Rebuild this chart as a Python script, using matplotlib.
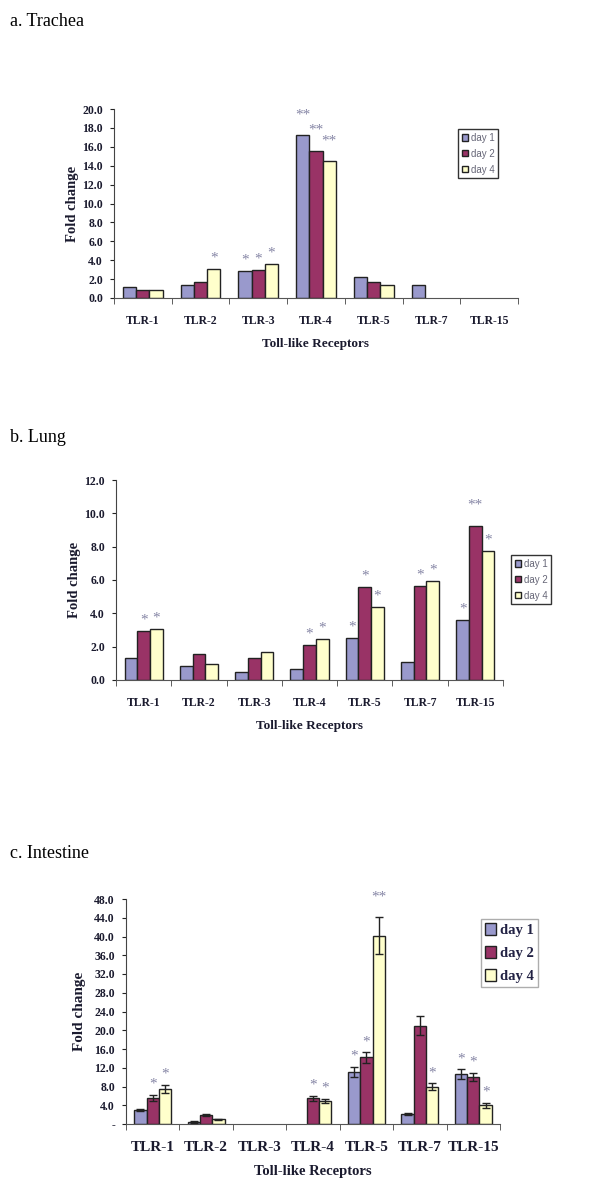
import numpy as np
import matplotlib.pyplot as plt
from matplotlib.ticker import FuncFormatter, FixedLocator

# Données
receptors = ['TLR-1', 'TLR-2', 'TLR-3', 'TLR-4', 'TLR-5', 'TLR-7', 'TLR-15']
days = ['day 1', 'day 2', 'day 4']
colors = ['#9999CC', '#993366', '#FFFFCC']

# a. Trachea
trachea_d1 = [1.17, 1.38, 2.86, 17.24, 2.19, 1.38, 0.0]
trachea_d2 = [0.88, 1.70, 3.00, 15.58, 1.73, 0.0, 0.0]
trachea_d4 = [0.81, 3.07, 3.60, 14.45, 1.41, 0.0, 0.0]
trachea_s1 = ['', '', '*', '**', '', '', '']
trachea_s2 = ['', '', '*', '**', '', '', '']
trachea_s4 = ['', '*', '*', '**', '', '', '']

# b. Lung
lung_d1 = [1.30, 0.86, 0.48, 0.66, 2.51, 1.10, 3.63]
lung_d2 = [2.97, 1.54, 1.30, 2.12, 5.61, 5.63, 9.26]
lung_d4 = [3.07, 0.98, 1.66, 2.48, 4.37, 5.93, 7.74]
lung_s1 = ['', '', '', '', '*', '', '*']
lung_s2 = ['*', '', '', '*', '*', '*', '**']
lung_s4 = ['*', '', '', '*', '*', '*', '*']

# c. Intestine
intes_d1 = [2.98, 0.43, 0.0, 0.0, 11.08, 2.13, 10.60]
intes_d2 = [5.54, 2.00, 0.0, 5.47, 14.20, 21.00, 10.00]
intes_d4 = [7.46, 1.00, 0.0, 4.90, 40.20, 8.00, 3.98]
intes_e1 = [0.30, 0.15, 0.0, 0.0, 1.10, 0.25, 1.05]
intes_e2 = [0.70, 0.20, 0.0, 0.50, 1.10, 2.06, 0.85]
intes_e4 = [0.90, 0.15, 0.0, 0.50, 3.90, 0.65, 0.50]
intes_s1 = ['', '', '', '', '*', '', '*']
intes_s2 = ['*', '', '', '*', '*', '', '*']
intes_s4 = ['*', '', '', '*', '**', '*', '*']

serif = 'Liberation Serif'
star_color = '#8585a5'
text_color = '#1a1a2e'


def draw_panel(ax, series, stars, ymax, ystep, errors=None, xtick_fs=8.5,
               ytick_fs=8.5, ylabel_fs=10.5, xlabel_fs=9.5, dash_zero=False,
               ylabelpad=4):
    x = np.arange(len(receptors))
    w = 0.23
    handles = []
    for i, vals in enumerate(series):
        pos = x + (i - 1) * w
        err = errors[i] if errors is not None else None
        lws = [1.0 if v > 0 else 0.0 for v in vals]
        b = ax.bar(pos, vals, w, color=colors[i], edgecolor='#222222',
                   linewidth=lws, label=days[i], zorder=2)
        handles.append(b)
        if err is not None:
            keep = [j for j, v in enumerate(vals) if v > 0]
            ax.errorbar(pos[keep], np.array(vals)[keep], yerr=np.array(err)[keep],
                        fmt='none', ecolor='#222222', elinewidth=1.0, capsize=3,
                        capthick=1.0, zorder=3)
        for j, s in enumerate(stars[i]):
            if not s:
                continue
            top = vals[j] + (err[j] if err is not None else 0)
            off = 10 if s == '**' else 3
            ax.annotate(s, (pos[j], top), xytext=(0, off), textcoords='offset points',
                        ha='center', va='bottom', fontsize=11, color=star_color,
                        family=serif)
    ax.set_xlim(-0.5, len(receptors) - 0.5)
    ax.set_ylim(0, ymax)
    ax.set_yticks(np.arange(0, ymax + ystep / 2, ystep))
    if dash_zero:
        ax.yaxis.set_major_formatter(FuncFormatter(lambda v, p: '-' if v == 0 else f'{v:.1f}'))
    else:
        ax.yaxis.set_major_formatter(FuncFormatter(lambda v, p: f'{v:.1f}'))
    ax.set_xticks(x)
    ax.set_xticklabels(receptors)
    ax.xaxis.set_minor_locator(FixedLocator(np.arange(-0.5, len(receptors), 1.0)))
    ax.tick_params(axis='x', which='major', length=0, pad=12)
    ax.tick_params(axis='x', which='minor', length=4, direction='out', color='#444444')
    ax.tick_params(axis='y', length=3, direction='out', color='#222222', pad=5)
    for lab in ax.get_xticklabels():
        lab.set_fontsize(xtick_fs)
    for lab in ax.get_yticklabels():
        lab.set_fontsize(ytick_fs)
    for lab in ax.get_xticklabels() + ax.get_yticklabels():
        lab.set_family(serif)
        lab.set_fontweight('bold')
        lab.set_color(text_color)
    for side in ['top', 'right']:
        ax.spines[side].set_visible(False)
    ax.spines['left'].set_color('#444444')
    ax.spines['bottom'].set_color('#555555')
    ax.set_ylabel('Fold change', family=serif, fontweight='bold', fontsize=ylabel_fs,
                  color=text_color, labelpad=ylabelpad)
    ax.set_xlabel('Toll-like Receptors', family=serif, fontweight='bold',
                  fontsize=xlabel_fs, color=text_color, labelpad=8)
    return handles


fig = plt.figure(figsize=(6, 12.04), dpi=100)
H = 1204.0

def axes_px(left, right, top, bottom):
    return fig.add_axes([left / 600, 1 - bottom / H, (right - left) / 600, (bottom - top) / H])

# a. Trachea
ax_a = axes_px(114, 518, 109, 298)
h = draw_panel(ax_a, [trachea_d1, trachea_d2, trachea_d4],
               [trachea_s1, trachea_s2, trachea_s4], 20, 2.0, ylabelpad=2)
fig.text(10 / 600, 1 - 22 / H, 'a. Trachea', family=serif, fontsize=13, va='center')
leg = fig.legend(handles=h, labels=days, loc='upper left',
                 bbox_to_anchor=(458 / 600, 1 - 129 / H), frameon=True, fancybox=False,
                 edgecolor='black', prop={'family': 'Liberation Sans', 'size': 7},
                 handlelength=0.6, handleheight=0.6, handletextpad=0.3,
                 borderpad=0.4, labelspacing=0.6, borderaxespad=0)
for t in leg.get_texts():
    t.set_color('#666677')

# b. Lung
ax_b = axes_px(116, 503, 480, 680)
h = draw_panel(ax_b, [lung_d1, lung_d2, lung_d4],
               [lung_s1, lung_s2, lung_s4], 12, 2.0, ylabelpad=2)
fig.text(10 / 600, 1 - 437 / H, 'b. Lung', family=serif, fontsize=13, va='center')
leg = fig.legend(handles=h, labels=days, loc='upper left',
                 bbox_to_anchor=(511 / 600, 1 - 555 / H), frameon=True, fancybox=False,
                 edgecolor='black', prop={'family': 'Liberation Sans', 'size': 7},
                 handlelength=0.6, handleheight=0.6, handletextpad=0.3,
                 borderpad=0.4, labelspacing=0.6, borderaxespad=0)
for t in leg.get_texts():
    t.set_color('#666677')

# c. Intestine
ax_c = axes_px(126, 500, 899, 1124)
h = draw_panel(ax_c, [intes_d1, intes_d2, intes_d4],
               [intes_s1, intes_s2, intes_s4], 48, 4.0,
               errors=[intes_e1, intes_e2, intes_e4], xtick_fs=11, ytick_fs=8.5,
               ylabel_fs=11, xlabel_fs=10.5, dash_zero=True, ylabelpad=6)
fig.text(10 / 600, 1 - 853 / H, 'c. Intestine', family=serif, fontsize=13, va='center')
leg = fig.legend(handles=h, labels=days, loc='upper left',
                 bbox_to_anchor=(481 / 600, 1 - 919 / H), frameon=True, fancybox=False,
                 edgecolor='#999999', prop={'family': serif, 'weight': 'bold', 'size': 10.5},
                 handlelength=0.7, handleheight=0.9, handletextpad=0.3,
                 borderpad=0.3, labelspacing=0.6, borderaxespad=0)
for t in leg.get_texts():
    t.set_color('#222244')

fig.savefig('out.png', dpi=100)
